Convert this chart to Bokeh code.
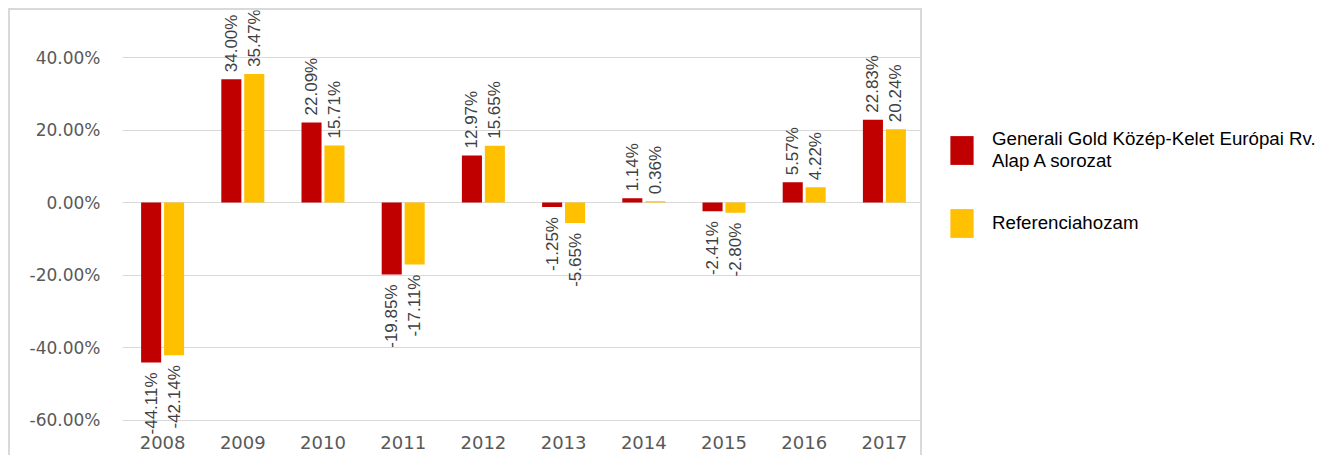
import math
from bokeh.plotting import figure
from bokeh.layouts import row
from bokeh.models import (ColumnDataSource, FactorRange, Range1d, FixedTicker,
                          NumeralTickFormatter, Legend, LegendItem, LabelSet)
from bokeh.transform import dodge
from bokeh.core.properties import value, field
from bokeh.embed import file_html
from bokeh.resources import INLINE

# ---------------- data ----------------
years = ["2008", "2009", "2010", "2011", "2012", "2013", "2014", "2015", "2016", "2017"]
fund_returns = [-44.11, 34.00, 22.09, -19.85, 12.97, -1.25, 1.14, -2.41, 5.57, 22.83]
benchmark_returns = [-42.14, 35.47, 15.71, -17.11, 15.65, -5.65, 0.36, -2.80, 4.22, 20.24]
series_labels = ["Generali Gold Közép-Kelet Európai Rv.\nAlap A sorozat", "Referenciahozam"]
series_colors = ["#C00000", "#FFC000"]
y_ticks = [-0.6, -0.4, -0.2, 0.0, 0.2, 0.4]

# ---------------- layout constants ----------------
W1, H1 = 914, 447            # chart canvas (inside 8px margin + 2px CSS border)
W2, H2 = 400, 447            # legend canvas
FRAME_LEFT = 112
BOTTOM_BORDER = 22
PX_PER_UNIT = 362.5          # pixels per 100 %
ZERO_Y = 192                 # canvas y of the 0 % line
FRAME_BOTTOM = H1 - BOTTOM_BORDER
Y_END = ZERO_Y / PX_PER_UNIT
Y_START = -(FRAME_BOTTOM - ZERO_Y) / PX_PER_UNIT

p = figure(width=W1, height=H1, x_range=FactorRange(factors=years),
           y_range=Range1d(Y_START, Y_END),
           output_backend="svg", toolbar_location=None,
           min_border_left=FRAME_LEFT, min_border_right=0,
           min_border_top=0, min_border_bottom=BOTTOM_BORDER)
p.frame_align = False
p.outline_line_color = None
p.background_fill_color = "white"
p.border_fill_color = "white"
p.styles = {"margin-left": "8px", "margin-top": "8px",
            "border-left": "2px solid #D9D9D9",
            "border-top": "2px solid #D9D9D9",
            "border-right": "2px solid #D9D9D9"}

p.xgrid.grid_line_color = None
p.ygrid.grid_line_color = "#D9D9D9"
p.ygrid.grid_line_width = 1

p.yaxis.ticker = FixedTicker(ticks=y_ticks)
p.yaxis.formatter = NumeralTickFormatter(format="0.00%")
for ax in (p.xaxis[0], p.yaxis[0]):
    ax.axis_line_color = None
    ax.major_tick_line_color = None
    ax.minor_tick_line_color = None
    ax.major_tick_out = 0
    ax.major_tick_in = 0
    ax.major_label_text_font = "DejaVu Sans"
    ax.major_label_text_color = "#595959"
p.yaxis.major_label_text_font_size = "17px"
p.xaxis.major_label_text_font_size = "18px"
p.yaxis.major_label_standoff = 22
p.xaxis.major_label_standoff = 0

OFFSET = 0.143
BAR_W = 0.25
POS_GAP = 7 / PX_PER_UNIT
NEG_GAP = 10 / PX_PER_UNIT

# legend-only figure (its bars fall outside its visible y range)
q = figure(width=W2, height=H2, x_range=FactorRange(factors=years),
           y_range=Range1d(10, 11), output_backend="svg", toolbar_location=None,
           x_axis_location=None, y_axis_location=None,
           min_border_left=0, min_border_right=0, min_border_top=103, min_border_bottom=0)
q.frame_align = False
q.outline_line_color = None
q.grid.visible = False

legend_renderers = []
for vals, color, off in ((fund_returns, series_colors[0], -OFFSET),
                         (benchmark_returns, series_colors[1], OFFSET)):
    tops = [v / 100 for v in vals]
    src = ColumnDataSource(dict(
        x=years,
        top=tops,
        label=[f"{v:.2f}%" for v in vals],
        label_y=[t + POS_GAP if t >= 0 else t - NEG_GAP for t in tops],
        align=["left" if t >= 0 else "right" for t in tops],
    ))
    p.vbar(x=dodge("x", off, range=p.x_range), top="top", bottom=0, width=BAR_W,
           source=src, fill_color=color, line_color=None)
    labels = LabelSet(x=dodge("x", off, range=p.x_range), y="label_y", text="label",
                      source=src, angle=math.pi / 2, text_align=field("align"),
                      text_baseline="middle", text_font=value("Liberation Sans"),
                      text_font_size="17px", text_color="#404040")
    p.add_layout(labels)
    rq = q.vbar(x=dodge("x", off, range=q.x_range), top="top", bottom=0, width=BAR_W,
                source=src, fill_color=color, line_color=None)
    legend_renderers.append(rq)

legend = Legend(items=[LegendItem(label=series_labels[0], renderers=[legend_renderers[0]]),
                       LegendItem(label=series_labels[1], renderers=[legend_renderers[1]])],
                location="top_left", glyph_width=29, glyph_height=36, label_standoff=16,
                spacing=33, padding=0, margin=25, border_line_color=None,
                background_fill_alpha=0,
                label_text_font="Liberation Sans", label_text_font_size="18.7px",
                label_text_color="#000000")
q.add_layout(legend)

layout = row(p, q)
open("out.html", "w").write(file_html(layout, INLINE))
